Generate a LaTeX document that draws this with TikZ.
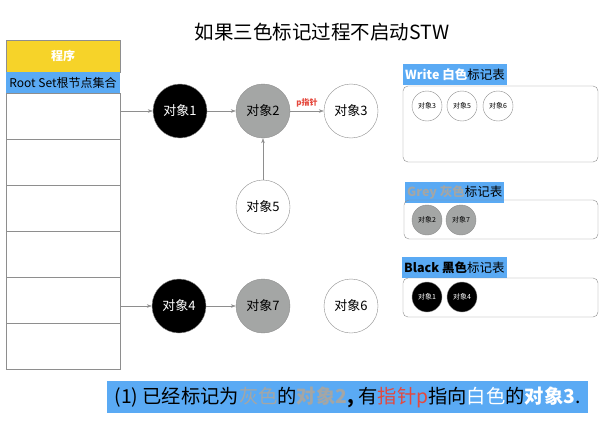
\documentclass[tikz,border=0pt]{standalone}
\usepackage{fontspec}
\setmainfont{Noto Sans CJK SC}
\usetikzlibrary{arrows.meta, positioning}
\definecolor{gelb}{HTML}{F6D329}
\definecolor{blau}{HTML}{5AAAF4}
\definecolor{grau}{HTML}{A4A6A5}
\definecolor{rot}{HTML}{E5483D}
\definecolor{linie}{HTML}{8E8E8E}

\begin{document}
\begin{tikzpicture}[x=1pt, y=-1pt,
    every node/.style={font=\fontsize{13}{15}\selectfont},
    obj/.style={circle, draw=linie, minimum size=54pt, inner sep=0pt},
    mini/.style={circle, draw=linie, minimum size=30pt, inner sep=0pt,
                 font=\fontsize{7}{8}\selectfont},
    cell/.style={draw=linie, minimum width=114pt, minimum height=46pt, inner sep=0pt},
    pfeil/.style={draw=linie, -{Stealth[length=5pt, width=3.5pt]}},
    tafel/.style={draw=linie, rounded corners=5pt},
    etikett/.style={fill=blau, anchor=west, inner xsep=2pt, minimum height=21pt,
                    font=\fontsize{12.5}{14}\selectfont}]
  \useasboundingbox[fill=white] (0,0) rectangle (609,420);
  % title
  \node (titel) at (322,32) {\fontsize{19.5}{22}\selectfont 如果三色标记过程不启动STW};
  % root set column
  \node[cell, fill=gelb, minimum height=32pt, text=white,
        font=\fontsize{12}{14}\selectfont\bfseries] (prog) at (63,56) {程序};
  \node[fill=blau, minimum width=114pt, minimum height=21pt, inner sep=0pt,
        font=\fontsize{12}{14}\selectfont] (root) at (63,82.5) {Root Set根节点集合};
  \foreach \i in {1,...,6}
    \node[cell] (c\i) at (63,{116+46*(\i-1)}) {};
  % objects
  \node[obj, fill=black, text=white] (o1) at (180,111) {对象1};
  \node[obj, fill=grau] (o2) at (263,111) {对象2};
  \node[obj] (o3) at (351,111) {对象3};
  \node[obj] (o5) at (263,207) {对象5};
  \node[obj, fill=black, text=white] (o4) at (179,306) {对象4};
  \node[obj, fill=grau] (o7) at (263,306) {对象7};
  \node[obj] (o6) at (351,306) {对象6};
  % references
  \draw[pfeil] (c1.east |- o1) -- (o1);
  \draw[pfeil] (o1) -- (o2);
  \draw[pfeil] (o2) -- node[above, text=rot, font=\fontsize{8}{9}\selectfont\bfseries]
    (zeiger) {p指针} (o3);
  \draw[pfeil] (o5) -- (o2);
  \draw[pfeil] (c5.east |- o4) -- (o4);
  \draw[pfeil] (o4) -- (o7);
  % white table
  \node[etikett] (lw) at (403,74.5)
    {\textcolor{white}{\bfseries Write 白色}标记表};
  \draw[tafel] (403,86) rectangle (598,162);
  \node[mini] (w3) at (427,106) {对象3};
  \node[mini] (w5) at (462,106) {对象5};
  \node[mini] (w6) at (498,106) {对象6};
  % grey table
  \node[etikett] (lg) at (405,192.5)
    {\textcolor{grau}{\bfseries Grey 灰色}标记表};
  \draw[tafel] (404,200) rectangle (598,239);
  \node[mini, fill=grau] (g2) at (427,220) {对象2};
  \node[mini, fill=grau] (g7) at (461,220) {对象7};
  % black table
  \node[etikett] (lb) at (402,267.5)
    {{\bfseries Black 黑色}标记表};
  \draw[tafel] (403,278) rectangle (598,317);
  \node[mini, fill=black, text=white] (b1) at (427,297) {对象1};
  \node[mini, fill=black, text=white] (b4) at (462,297) {对象4};
  % caption
  \node[fill=blau, minimum width=481pt, minimum height=32pt, inner sep=0pt,
        font=\fontsize{19.3}{22}\selectfont] (notiz) at (347.5,397)
    {(1) 已经标记为\textcolor{grau}{灰色}的\textcolor{grau}{\bfseries 对象2}{\bfseries ,} 有\textcolor{rot}{指针p}指向\textcolor{white}{白色}的\textcolor{white}{\bfseries 对象3}.};
\end{tikzpicture}
\end{document}
